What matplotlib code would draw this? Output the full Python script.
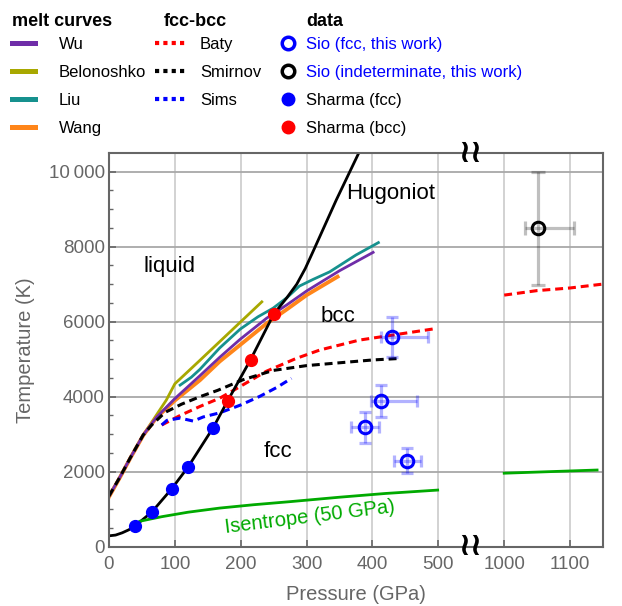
import numpy as np
import matplotlib
matplotlib.use("Agg")
import matplotlib.pyplot as plt
from matplotlib.lines import Line2D
from matplotlib.transforms import blended_transform_factory

plt.rcParams['font.family'] = ['Liberation Sans', 'DejaVu Sans']

# melt curves (P in GPa, T in K)
wu_p = [0, 17, 32, 52, 72, 100, 138, 168, 199, 239, 270, 300, 350, 401]
wu_t = [1350, 1870, 2360, 2980, 3450, 3950, 4560, 5050, 5530, 6090, 6450, 6820, 7360, 7850]
belonoshko_p = [0, 17, 32, 52, 87, 100, 138, 232]
belonoshko_t = [1350, 1870, 2360, 2980, 3910, 4345, 4970, 6530]
liu_p = [108, 125, 138, 168, 199, 226, 249, 270, 289, 310, 335, 375, 409]
liu_t = [4310, 4520, 4730, 5300, 5800, 6130, 6360, 6640, 6950, 7130, 7330, 7780, 8110]
wang_p = [0, 17, 32, 52, 72, 100, 138, 168, 199, 239, 270, 300, 347]
wang_t = [1330, 1860, 2350, 2970, 3440, 3900, 4440, 4940, 5380, 5950, 6330, 6710, 7200]

# fcc-bcc boundaries
baty_p = [80, 108, 138, 168, 190, 239, 284, 320, 380, 431, 497]
baty_t = [3245, 3500, 3740, 3960, 4180, 4680, 5020, 5245, 5510, 5645, 5820]
baty_hi_p = [1000, 1050, 1100, 1148]
baty_hi_t = [6710, 6830, 6900, 7000]
smirnov_p = [0, 17, 32, 52, 65, 85, 110, 138, 165, 203, 249, 300, 340, 400, 441]
smirnov_t = [1350, 1870, 2360, 2980, 3250, 3580, 3800, 4000, 4170, 4450, 4700, 4830, 4890, 4980, 5020]
sims_p = [80, 88, 108, 128, 143, 168, 200, 229, 255, 277]
sims_t = [3245, 3370, 3430, 3350, 3460, 3570, 3780, 4010, 4250, 4490]

# Hugoniot and isentrope
hug_p = [0, 10, 20, 30, 40, 65, 95, 120, 158, 180, 215, 250, 270, 285, 298, 310, 345, 380]
hug_t = [290, 310, 370, 450, 560, 925, 1540, 2125, 3170, 3885, 4990, 6200, 6640, 7000, 7420, 7880, 9245, 10530]
isen_p = [47, 80, 120, 168, 220, 274, 350, 420, 499]
isen_t = [680, 800, 920, 1030, 1120, 1200, 1320, 1420, 1510]
isen_hi_p = [1000, 1141]
isen_hi_t = [1960, 2045]

# data points
sio_p = [429, 413, 389, 453]
sio_t = [5600, 3890, 3180, 2290]
sio_p_lo = [16, 15, 21, 21]
sio_p_hi = [55, 54, 21, 21]
sio_t_err = [530, 420, 420, 330]
ind_p = [1051]
ind_t = [8490]
ind_p_lo = [20]
ind_p_hi = [55]
ind_t_err = [1500]
sharma_fcc_p = [40, 65, 95, 120, 158]
sharma_fcc_t = [560, 925, 1540, 2125, 3170]
sharma_bcc_p = [180, 215, 250]
sharma_bcc_t = [3885, 4990, 6200]

xticks = [0, 100, 200, 300, 400, 500, 1000, 1100]
yticks = [0, 2000, 4000, 6000, 8000, 10000]
ylabels = ['0', '2000', '4000', '6000', '8000', '10\u2009000']


# broken pressure axis: 550..950 GPa is cut out
def fwd(x):
    x = np.asarray(x, dtype=float)
    return np.where(x <= 550, x, np.where(x >= 950, x - 400, 550.0))


def inv(x):
    x = np.asarray(x, dtype=float)
    return np.where(x <= 550, x, x + 400)


fig = plt.figure(figsize=(6.22, 6.06), dpi=100)
ax = fig.add_axes([109 / 622, 1 - 546.7 / 606, 494 / 622, 393.7 / 606])
ax.set_xscale('function', functions=(fwd, inv))
ax.set_xlim(0, 1150)
ax.set_ylim(0, 10500)

ax.set_axisbelow(True)
ax.xaxis.grid(True, color='#cfcfcf', lw=1.3)
ax.yaxis.grid(True, color='#a8a8a8', lw=1.3)
for s in ax.spines.values():
    s.set_color('#666666')
    s.set_linewidth(1.5)

ax.set_xticks(xticks)
ax.set_yticks(yticks, labels=ylabels)
ax.set_yticks(np.arange(0, 10500, 500), minor=True)
ax.tick_params(axis='both', direction='in', colors='#666666', labelsize=13.5, length=5, width=1.2)
ax.tick_params(axis='y', which='minor', direction='in', color='#666666', length=3, width=1)
ax.tick_params(axis='x', pad=7)
ax.tick_params(axis='y', pad=3)

ax.set_xlabel('Pressure (GPa)', fontsize=14.5, color='#666666', labelpad=8)
ax.set_ylabel('Temperature (K)', fontsize=14.5, color='#666666', labelpad=10)

c_wu, c_bel, c_liu, c_wang = '#6f2da8', '#a8a800', '#16918e', '#ff8519'
dash = (0, (2.6, 1.6))

ax.plot(belonoshko_p, belonoshko_t, color=c_bel, lw=2)
ax.plot(liu_p, liu_t, color=c_liu, lw=2)
ax.plot(wang_p, wang_t, color=c_wang, lw=2.8)
ax.plot(wu_p, wu_t, color=c_wu, lw=2)

ax.plot(baty_p, baty_t, color='red', lw=2.2, ls=dash)
ax.plot(baty_hi_p, baty_hi_t, color='red', lw=2.2, ls=dash)
ax.plot(smirnov_p, smirnov_t, color='black', lw=2.2, ls=dash)
ax.plot(sims_p, sims_t, color='blue', lw=2.2, ls=dash)

ax.plot(hug_p, hug_t, color='black', lw=2)
ax.plot(isen_p, isen_t, color='#00aa00', lw=2)
ax.plot(isen_hi_p, isen_hi_t, color='#00aa00', lw=2)

ax.errorbar(sio_p, sio_t, xerr=[sio_p_lo, sio_p_hi], yerr=sio_t_err, fmt='none',
            ecolor=(0, 0, 1, 0.3), elinewidth=2.3, capsize=4.3, capthick=2.3)
ax.errorbar(ind_p, ind_t, xerr=[ind_p_lo, ind_p_hi], yerr=ind_t_err, fmt='none',
            ecolor=(0, 0, 0, 0.25), elinewidth=2.3, capsize=5, capthick=2.3)
ax.plot(sio_p, sio_t, 'o', ls='none', mfc='none', mec='blue', ms=9, mew=2.2)
ax.plot(ind_p, ind_t, 'o', ls='none', mfc='none', mec='black', ms=9, mew=2.2)
ax.plot(sharma_fcc_p, sharma_fcc_t, 'o', ls='none', color='blue', ms=8.5, zorder=4)
ax.plot(sharma_bcc_p, sharma_bcc_t, 'o', ls='none', color='red', ms=8.5, zorder=4)

ax.text(92, 7470, 'liquid', fontsize=16, ha='center', va='center')
ax.text(428, 9420, 'Hugoniot', fontsize=16, ha='center', va='center')
ax.text(347, 6130, 'bcc', fontsize=16, ha='center', va='center')
ax.text(257, 2530, 'fcc', fontsize=16, ha='center', va='center')
ax.text(305, 790, 'Isentrope (50 GPa)', fontsize=14.5, color='#00aa00',
        ha='center', va='center', rotation=7, rotation_mode='anchor')

tr = blended_transform_factory(ax.transData, ax.transAxes)
for yy in (0, 1):
    ax.text(548, yy, '\u2240\u2240', transform=tr, ha='center', va='center',
            fontsize=23, fontweight='bold', clip_on=False, family='DejaVu Sans')

# legends
fs = 12
ty = 1 - 21 / 606
fig.text(12 / 622, ty, 'melt curves', fontsize=13, fontweight='bold', va='center')
fig.text(164 / 622, ty, 'fcc-bcc', fontsize=13, fontweight='bold', va='center')
fig.text(306 / 622, ty, 'data', fontsize=13, fontweight='bold', va='center')

leg_kw = dict(loc='upper left', frameon=False, fontsize=fs, borderpad=0,
              borderaxespad=0, labelspacing=0.78)
anchor_y = 1 - 37 / 606

melt_h = [Line2D([], [], color=c, lw=3.6) for c in (c_wu, c_bel, c_liu, c_wang)]
fig.legend(melt_h, ['Wu', 'Belonoshko', 'Liu', 'Wang'],
           bbox_to_anchor=(12 / 622, anchor_y), handlelength=1.38, handletextpad=1.44,
           **leg_kw)

fb_h = [Line2D([], [], color=c, lw=3, ls=(0, (1, 1))) for c in ('red', 'black', 'blue')]
fig.legend(fb_h, ['Baty', 'Smirnov', 'Sims'],
           bbox_to_anchor=(155 / 622, anchor_y), handlelength=1.8, handletextpad=0.9,
           **leg_kw)

data_h = [Line2D([], [], ls='none', marker='o', mfc='none', mec='blue', ms=9, mew=2.5),
          Line2D([], [], ls='none', marker='o', mfc='none', mec='black', ms=9, mew=2.5),
          Line2D([], [], ls='none', marker='o', color='blue', ms=9),
          Line2D([], [], ls='none', marker='o', color='red', ms=9)]
leg3 = fig.legend(data_h, ['Sio (fcc, this work)', 'Sio (indeterminate, this work)',
                           'Sharma (fcc)', 'Sharma (bcc)'],
                  bbox_to_anchor=(280 / 622, anchor_y), handlelength=1.0, handletextpad=0.56,
                  **leg_kw)
for t in leg3.get_texts()[:2]:
    t.set_color('blue')

fig.savefig('out.png', dpi=100)
